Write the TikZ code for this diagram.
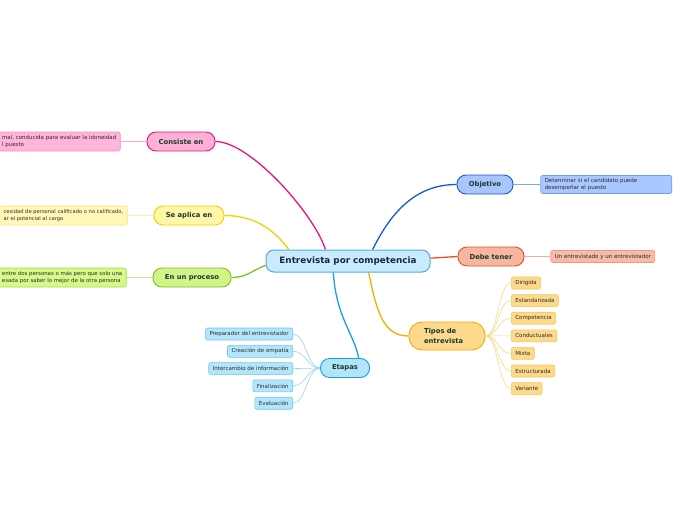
\documentclass[tikz,border=0pt]{standalone}
\usepackage{fontspec}
\setmainfont{DejaVu Sans}
\usepackage{tikz}
\usetikzlibrary{positioning, backgrounds}
\definecolor{ctrfill}{HTML}{C8ECFC}
\definecolor{ctrline}{HTML}{4DAAE6}
\definecolor{ctrink}{HTML}{11294A}
\definecolor{topicink}{HTML}{173A35}
\definecolor{leafink}{HTML}{2B2B2B}
\definecolor{pinkfill}{HTML}{FFB0D6}
\definecolor{pinkline}{HTML}{E6157C}
\definecolor{pinkleaf}{HTML}{FFB5DA}
\definecolor{pinkleafline}{HTML}{FF8CC8}
\definecolor{pinksub}{HTML}{FFA6D2}
\definecolor{yelfill}{HTML}{FFF6A8}
\definecolor{yelline}{HTML}{EED300}
\definecolor{yelleaf}{HTML}{FFF8B8}
\definecolor{yelleafline}{HTML}{F8E27A}
\definecolor{yelsub}{HTML}{FFF1A0}
\definecolor{grnfill}{HTML}{D2F587}
\definecolor{grnline}{HTML}{7CBF22}
\definecolor{grnleaf}{HTML}{D8F98A}
\definecolor{grnleafline}{HTML}{A4D84E}
\definecolor{grnsub}{HTML}{C7EC8A}
\definecolor{objfill}{HTML}{A8C6FC}
\definecolor{objline}{HTML}{1A58D2}
\definecolor{objleaf}{HTML}{A9C8FF}
\definecolor{objleafline}{HTML}{6F9DEE}
\definecolor{objsub}{HTML}{7FA8EE}
\definecolor{debfill}{HTML}{F7B6A0}
\definecolor{debline}{HTML}{E4502A}
\definecolor{debleaf}{HTML}{F8BBA6}
\definecolor{debleafline}{HTML}{F09A7E}
\definecolor{debsub}{HTML}{F6AD96}
\definecolor{tipfill}{HTML}{FCD98B}
\definecolor{tipline}{HTML}{F5AE00}
\definecolor{tipleaf}{HTML}{FDD98C}
\definecolor{tipleafline}{HTML}{F8C75E}
\definecolor{tipsub}{HTML}{FCD680}
\definecolor{etafill}{HTML}{B2E4FA}
\definecolor{etaline}{HTML}{18A1E0}
\definecolor{etaleaf}{HTML}{B5E5FA}
\definecolor{etaleafline}{HTML}{6EC5EE}
\definecolor{etasub}{HTML}{90D4F5}

\begin{document}
\begin{tikzpicture}[
  x=1pt, y=-1pt,
  every node/.style={align=center},
  ctrbox/.style={draw=ctrline, fill=ctrfill, line width=1pt, rounded corners=8pt, minimum height=22pt, font=\fontsize{8.8}{10}\selectfont\bfseries, text=ctrink},
  topicbox/.style={line width=0.9pt, rounded corners=9pt, minimum height=19pt, font=\fontsize{6.8}{9.5}\selectfont\bfseries, text=topicink},
  leafbox/.style={line width=0.6pt, rounded corners=2pt, minimum height=12pt, inner xsep=4pt, inner ysep=2pt, font=\fontsize{5.5}{7}\selectfont, text=leafink},
  link/.style={line width=1.3pt},
  sublink/.style={line width=0.6pt}
]
\useasboundingbox (0,0) rectangle (696,520);

% centre
\node[ctrbox, minimum width=164pt] (ctr) at (348,261) {Entrevista por competencia};

% left side
\node[topicbox, draw=pinkline, fill=pinkfill, minimum width=68pt] (cons) at (181,141.5) {Consiste en};
\node[leafbox, draw=pinkleafline, fill=pinkleaf, align=left, minimum height=19pt, left=26pt of cons] (consleaf) {mal, conducida para evaluar la idoneidad\\l puesto};

\node[topicbox, draw=yelline, fill=yelfill, minimum width=70pt] (apli) at (189,215.5) {Se aplica en};
\node[leafbox, draw=yelleafline, fill=yelleaf, align=left, minimum height=19pt, font=\fontsize{5.2}{7}\selectfont, left=26pt of apli] (aplileaf) {cesidad de personal calificado o no calificado,\\ar el potencial al cargo};

\node[topicbox, draw=grnline, fill=grnfill, minimum width=78pt] (proc) at (192,277.5) {En un proceso};
\node[leafbox, draw=grnleafline, fill=grnleaf, align=left, minimum height=19pt, font=\fontsize{5.4}{7}\selectfont, left=26pt of proc] (procleaf) {entre dos personas o más pero que solo una\\esada por saber lo mejor de la otra persona};

% right side
\node[topicbox, draw=objline, fill=objfill, minimum width=56pt] (obj) at (485,184.5) {Objetivo};
\node[leafbox, draw=objleafline, fill=objleaf, align=left, text width=123pt, minimum height=18pt, right=27pt of obj] (objleaf) {Determinar si el candidato puede\\desempeñar el puesto};

\node[topicbox, draw=debline, fill=debfill, minimum width=66pt] (deb) at (491,256.5) {Debe tener};
\node[leafbox, draw=debleafline, fill=debleaf, right=26pt of deb] (debleaf) {Un entrevistado y un entrevistador};

% tipos de entrevista
\node[topicbox, draw=tipline, fill=tipfill, minimum width=76pt, minimum height=28pt, rounded corners=13pt, text width=46pt, align=left] (tip) at (447,336) {Tipos de\\entrevista};
\node[leafbox, draw=tipleafline, fill=tipleaf, anchor=west] (t1) at (511,283) {Dirigida};
\node[leafbox, draw=tipleafline, fill=tipleaf, below right=5pt and 0pt of t1.south west] (t2) {Estandarizada};
\node[leafbox, draw=tipleafline, fill=tipleaf, below right=5pt and 0pt of t2.south west] (t3) {Competencia};
\node[leafbox, draw=tipleafline, fill=tipleaf, below right=5pt and 0pt of t3.south west] (t4) {Conductuales};
\node[leafbox, draw=tipleafline, fill=tipleaf, below right=5pt and 0pt of t4.south west] (t5) {Mixta};
\node[leafbox, draw=tipleafline, fill=tipleaf, below right=5pt and 0pt of t5.south west] (t6) {Estructurada};
\node[leafbox, draw=tipleafline, fill=tipleaf, below right=5pt and 0pt of t6.south west] (t7) {Variante};

% etapas
\node[topicbox, draw=etaline, fill=etafill, minimum width=49pt] (eta) at (345,368) {Etapas};
\node[leafbox, draw=etaleafline, fill=etaleaf, anchor=east] (e1) at (293,334) {Preparador del entrevistador};
\node[leafbox, draw=etaleafline, fill=etaleaf, below left=4.7pt and 0pt of e1.south east] (e2) {Creación de empatía};
\node[leafbox, draw=etaleafline, fill=etaleaf, below left=4.7pt and 0pt of e2.south east] (e3) {Intercambio de información};
\node[leafbox, draw=etaleafline, fill=etaleaf, below left=4.7pt and 0pt of e3.south east] (e4) {Finalización};
\node[leafbox, draw=etaleafline, fill=etaleaf, below left=4.7pt and 0pt of e4.south east] (e5) {Evaluación};

% connectors
\begin{scope}[on background layer]
\draw[link, pinkline] (ctr.153) .. controls +(-11,-35) and +(35,0) .. (cons.east);
\draw[link, yelline] (ctr.169) .. controls +(-15,-20) and +(30,0) .. (apli.east);
\draw[link, grnline] (ctr.183) .. controls +(-15,6) and +(15,0) .. (proc.east);
\draw[link, objline] (ctr.25) .. controls +(22,-45) and +(-35,0) .. (obj.west);
\draw[link, debline] (ctr.2) .. controls +(14,0) and +(-14,0) .. (deb.west);
\draw[link, tipline] (ctr.331) .. controls +(8,40) and +(-25,0) .. (tip.west);
\draw[link, etaline] (ctr.218) .. controls +(3,45) and +(-5,-25) .. (eta.36);

\draw[sublink, pinksub] (cons.west) -- (consleaf.east);
\draw[sublink, yelsub] (apli.west) -- (aplileaf.east);
\draw[sublink, grnsub] (proc.west) -- (procleaf.east);
\draw[sublink, objsub] (obj.east) -- (objleaf.west);
\draw[sublink, debsub] (deb.east) -- (debleaf.west);

\draw[sublink, tipsub] (tip.east) .. controls +(13,0) and +(-13,0) .. (t1.west);
\draw[sublink, tipsub] (tip.east) .. controls +(13,0) and +(-13,0) .. (t2.west);
\draw[sublink, tipsub] (tip.east) .. controls +(13,0) and +(-13,0) .. (t3.west);
\draw[sublink, tipsub] (tip.east) .. controls +(13,0) and +(-13,0) .. (t4.west);
\draw[sublink, tipsub] (tip.east) .. controls +(13,0) and +(-13,0) .. (t5.west);
\draw[sublink, tipsub] (tip.east) .. controls +(13,0) and +(-13,0) .. (t6.west);
\draw[sublink, tipsub] (tip.east) .. controls +(13,0) and +(-13,0) .. (t7.west);

\draw[sublink, etasub] (eta.west) .. controls +(-13,0) and +(13,0) .. (e1.east);
\draw[sublink, etasub] (eta.west) .. controls +(-13,0) and +(13,0) .. (e2.east);
\draw[sublink, etasub] (eta.west) .. controls +(-13,0) and +(13,0) .. (e3.east);
\draw[sublink, etasub] (eta.west) .. controls +(-13,0) and +(13,0) .. (e4.east);
\draw[sublink, etasub] (eta.west) .. controls +(-13,0) and +(13,0) .. (e5.east);
\end{scope}

\end{tikzpicture}
\end{document}
